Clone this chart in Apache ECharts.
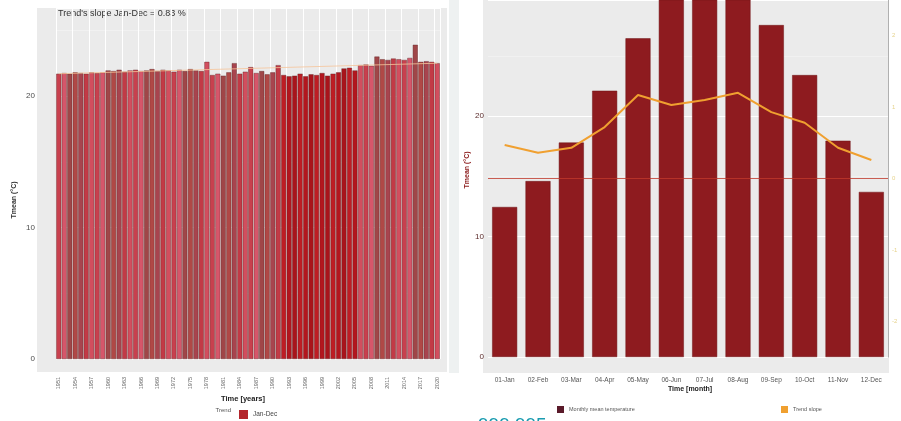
<!DOCTYPE html>
<html>
<head>
<meta charset="utf-8">
<script src="https://cdn.jsdelivr.net/npm/echarts@6/dist/echarts.min.js"></script>
<style>
  html, body { margin: 0; padding: 0; background: #fff; }
  #chart { width: 901px; height: 421px; }
</style>
</head>
<body>
<div id="chart"></div>
<script>
// left panel: yearly mean temperature (Jan-Dec)
const years = [];
for (let y = 1951; y <= 2020; y++) years.push(String(y));
const yearTemp = [
  21.7, 21.75, 21.7, 21.8, 21.75, 21.7, 21.8, 21.75, 21.8,
  21.95, 21.9, 22.0, 21.85, 21.95, 22.0, 21.9, 21.95, 22.05, 21.9, 22.0, 21.95, 21.85, 22.0, 21.9, 22.05, 21.95, 21.9,
  22.6,
  21.6, 21.7, 21.55, 21.8,
  22.5,
  21.7, 21.85,
  22.2,
  21.75, 21.9, 21.65, 21.8,
  22.35,
  21.6, 21.5, 21.55, 21.7, 21.5, 21.65, 21.6, 21.75, 21.55, 21.7, 21.8,
  22.1, 22.15, 21.95,
  22.35, 22.4, 22.3,
  23.0,
  22.8, 22.75, 22.85, 22.8, 22.75, 22.9,
  23.9,
  22.6, 22.65, 22.6, 22.5
];
const trendStart = 21.7;
const trendEnd = 22.5;
const leftTicks = [0, 10, 20];

// right panel: monthly mean temperature + trend slope
const months = ['01-Jan', '02-Feb', '03-Mar', '04-Apr', '05-May', '06-Jun',
                '07-Jul', '08-Aug', '09-Sep', '10-Oct', '11-Nov', '12-Dec'];
const monthTemp = [12.45, 14.6, 17.8, 22.1, 26.45, 31.0, 31.5, 31.0, 27.55, 23.4, 17.95, 13.7];
const monthSlope = [0.47, 0.36, 0.43, 0.72, 1.17, 1.03, 1.10, 1.20, 0.93, 0.78, 0.43, 0.26];
const slopeTicks = [-2, -1, 0, 1, 2];

const font = '"Liberation Sans", Arial, sans-serif';
const palette = ['#c8404e', '#b04846', '#d24e5e', '#a04648', '#c23a46', '#d6566a', '#a8444e'];
const deep = ['#b3161e', '#a9141b', '#be1d24'];

const chart = echarts.init(document.getElementById('chart'), null, { renderer: 'canvas' });

const option = {
  animation: false,
  backgroundColor: '#ffffff',
  textStyle: { fontFamily: font },
  graphic: [
    { type: 'rect', z: -10, shape: { x: 37, y: 8, width: 410, height: 364 }, style: { fill: '#ebebeb' } },
    { type: 'rect', z: -10, shape: { x: 483, y: 0, width: 406, height: 373 }, style: { fill: '#ebebeb' } },
    { type: 'rect', z: -10, shape: { x: 449, y: 0, width: 10, height: 373 }, style: { fill: '#eef1f1' } },
    { type: 'text', x: 58, y: 14, style: { text: "Trend's slope Jan-Dec = 0.83 %", font: '9px ' + font, fill: '#333', textVerticalAlign: 'middle' } },
    { type: 'text', x: 14, y: 200, rotation: Math.PI / 2, style: { text: 'Tmean (°C)', font: 'bold 7px ' + font, fill: '#333', textAlign: 'center', textVerticalAlign: 'middle' } },
    { type: 'text', x: 243, y: 399, style: { text: 'Time [years]', font: 'bold 7.5px ' + font, fill: '#222', textAlign: 'center', textVerticalAlign: 'middle' } },
    { type: 'text', x: 231, y: 410, style: { text: 'Trend', font: '6px ' + font, fill: '#555', textAlign: 'right', textVerticalAlign: 'middle' } },
    { type: 'text', x: 467, y: 170, rotation: Math.PI / 2, style: { text: 'Tmean (°C)', font: 'bold 7px ' + font, fill: '#8b1a1a', textAlign: 'center', textVerticalAlign: 'middle' } },
    { type: 'text', x: 690, y: 389, style: { text: 'Time [month]', font: 'bold 7px ' + font, fill: '#222', textAlign: 'center', textVerticalAlign: 'middle' } },
    { type: 'text', x: 478, y: 416, style: { text: '999,995', font: '19px ' + font, fill: '#1a9cb0' } }
  ],
  legend: [
    {
      data: ['Jan-Dec'], left: 234, top: 405, icon: 'rect', itemWidth: 9, itemHeight: 9,
      itemStyle: { color: '#b3262c', borderWidth: 0 },
      textStyle: { fontSize: 6.5, color: '#444' }
    },
    {
      data: ['Monthly mean temperature'], left: 552, top: 401, icon: 'rect', itemWidth: 7, itemHeight: 7,
      itemStyle: { color: '#5a1a2a', borderWidth: 0 }, textStyle: { fontSize: 5.5, color: '#555' }
    },
    {
      data: ['Trend slope'], left: 776, top: 401, icon: 'rect', itemWidth: 7, itemHeight: 7,
      textStyle: { fontSize: 5.5, color: '#555' }
    }
  ],
  grid: [
    { left: 56, right: 461, top: 8, bottom: 62 },
    { left: 488, right: 13, top: 0, bottom: 64 }
  ],
  xAxis: [
    {
      type: 'category', gridIndex: 0, data: years,
      axisLine: { show: false }, axisTick: { show: false },
      axisLabel: { rotate: 90, interval: 2, fontSize: 5.5, color: '#666', margin: 18 },
      splitLine: { show: true, interval: 2, lineStyle: { color: '#ffffff', width: 1 } }
    },
    {
      type: 'category', gridIndex: 1, data: months,
      axisLine: { show: false }, axisTick: { show: false },
      axisLabel: { interval: 0, fontSize: 6.5, color: '#555', margin: 20 }
    }
  ],
  yAxis: [
    {
      type: 'value', gridIndex: 0, min: 0, max: 26.7, interval: 10,
      axisLine: { show: false }, axisTick: { show: false },
      axisLabel: {
        fontSize: 8, color: '#4d4d4d', margin: 21,
        formatter: v => leftTicks.indexOf(v) >= 0 ? String(v) : ''
      },
      splitLine: { lineStyle: { color: '#ffffff', width: 1.2 } },
      minorTick: { show: false, splitNumber: 2 },
      minorSplitLine: { show: true, lineStyle: { color: '#f5f5f5', width: 0.6 } }
    },
    {
      type: 'value', gridIndex: 1, min: 0, max: 29.63, interval: 10,
      axisLine: { show: false }, axisTick: { show: false },
      axisLabel: {
        fontSize: 8, color: '#5a2a2a', margin: 4,
        formatter: v => leftTicks.indexOf(v) >= 0 ? String(v) : ''
      },
      splitLine: { lineStyle: { color: '#ffffff', width: 1.2 } },
      minorTick: { show: false, splitNumber: 2 },
      minorSplitLine: { show: true, lineStyle: { color: '#f5f5f5', width: 0.6 } }
    },
    {
      type: 'value', gridIndex: 1, position: 'right', min: -2.5, max: 2.5, interval: 0.5,
      axisLine: { show: true, lineStyle: { color: '#b0b0b0', width: 1 } },
      axisTick: { show: false },
      axisLabel: {
        fontSize: 6, color: '#e6d38c', margin: 4,
        formatter: v => slopeTicks.indexOf(v) >= 0 ? String(v) : ''
      },
      splitLine: { show: false }
    }
  ],
  series: [
    {
      name: 'Jan-Dec', type: 'bar', xAxisIndex: 0, yAxisIndex: 0,
      data: yearTemp, barCategoryGap: '10%',
      itemStyle: {
        borderColor: '#5e2424', borderWidth: 0.4,
        color: p => (p.dataIndex >= 41 && p.dataIndex <= 54)
          ? deep[p.dataIndex % deep.length]
          : palette[(p.dataIndex * 5) % palette.length]
      },
      markLine: {
        silent: true, symbol: 'none', label: { show: false },
        lineStyle: { color: '#f6c49a', width: 1, type: 'solid', opacity: 0.8 },
        data: [[{ coord: [years[0], trendStart] }, { coord: [years[years.length - 1], trendEnd] }]]
      }
    },
    {
      name: 'Monthly mean temperature', type: 'bar', xAxisIndex: 1, yAxisIndex: 1,
      data: monthTemp, barCategoryGap: '25%',
      itemStyle: { color: '#8e1b1f', borderColor: '#6e1416', borderWidth: 0.5 }
    },
    {
      name: 'Trend slope', type: 'line', xAxisIndex: 1, yAxisIndex: 2,
      data: monthSlope, symbol: 'none', z: 5,
      lineStyle: { color: '#f0a030', width: 2 },
      itemStyle: { color: '#f0a030' },
      markLine: {
        silent: true, symbol: 'none', label: { show: false },
        lineStyle: { color: '#c0392b', width: 0.8, type: 'solid' },
        data: [{ yAxis: 0 }]
      }
    }
  ]
};

chart.setOption(option);
</script>
</body>
</html>
